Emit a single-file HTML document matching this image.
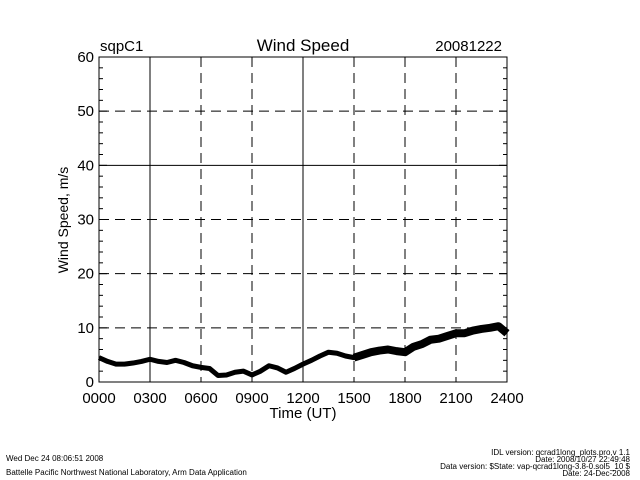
<!DOCTYPE html>
<html><head><meta charset="utf-8"><style>
html,body{margin:0;padding:0;background:#fff;}
svg{display:block;font-family:"Liberation Sans",sans-serif;}
</style></head><body>
<svg id="chart" width="640" height="480" viewBox="0 0 640 480">
<g id="grid"></g>
<g id="series"></g>
<rect x="99" y="57" width="408" height="325" fill="none" stroke="#000" stroke-width="1"/>
<g id="axes"></g>
<text x="100" y="51" font-size="15">sqpC1</text>
<text x="303" y="51" font-size="17" text-anchor="middle">Wind Speed</text>
<text x="502" y="51" font-size="15" text-anchor="end">20081222</text>
<text x="303" y="418" font-size="15" text-anchor="middle">Time (UT)</text>
<text transform="translate(68,220) rotate(-90)" font-size="14" text-anchor="middle">Wind Speed, m/s</text>
<g font-size="8">
<text x="6" y="461">Wed Dec 24 08:06:51 2008</text>
<text x="6" y="475">Battelle Pacific Northwest National Laboratory, Arm Data Application</text>
<text x="630" y="455" text-anchor="end">IDL version: qcrad1long_plots.pro,v 1.1</text>
<text x="630" y="462" text-anchor="end">Date: 2008/10/27 22:49:48</text>
<text x="630" y="469" text-anchor="end">Data version: $State: vap-qcrad1long-3.8-0.sol5_10 $</text>
<text x="630" y="476" text-anchor="end">Date: 24-Dec-2008</text>
</g>
</svg>
<script>
const xTickLabels=["0000","0300","0600","0900","1200","1500","1800","2100","2400"];
const xTickHours=[0,3,6,9,12,15,18,21,24];
const yTicks=[0,10,20,30,40,50,60];
const hours=[0,0.5,1,1.5,2,2.5,3,3.5,4,4.5,5,5.5,6,6.5,7,7.5,8,8.5,9,9.5,10,10.5,11,11.5,12,12.5,13,13.5,14,14.5,15,15.5,16,16.5,17,17.5,18,18.5,19,19.5,20,20.5,21,21.5,22,22.5,23,23.5,24];
const speeds=[4.5,3.8,3.3,3.3,3.5,3.8,4.2,3.8,3.6,4.0,3.6,3.0,2.7,2.5,1.2,1.3,1.8,2.0,1.3,2.0,3.0,2.6,1.8,2.5,3.3,4.0,4.8,5.5,5.3,4.8,4.5,5.0,5.5,5.8,6.0,5.7,5.5,6.5,7.0,7.8,8.0,8.5,9.0,9.0,9.5,9.8,10.0,10.3,9.0];
const NS="http://www.w3.org/2000/svg";
const X0=99,X1=507,Y0=382,Y1=57;
const xs=h=>X0+(X1-X0)*h/24;
const ys=v=>Y0-(Y0-Y1)*v/60;
function mk(tag,attrs,parent){const e=document.createElementNS(NS,tag);for(const k in attrs)e.setAttribute(k,attrs[k]);parent.appendChild(e);return e;}
const grid=document.getElementById('grid'),axes=document.getElementById('axes'),series=document.getElementById('series');
xTickHours.forEach((h,i)=>{
  if(i>0&&i<xTickHours.length-1){
    const l=mk('line',{x1:xs(h),x2:xs(h),y1:Y1,y2:Y0,stroke:'#000','stroke-width':1,'stroke-dasharray':(h===3||h===12)?'none':'10,6'},grid);
    
    
  }
  const t=mk('text',{x:xs(h),y:403,'font-size':15,'text-anchor':'middle'},axes);
  t.textContent=xTickLabels[i];
  
  
});
yTicks.forEach(v=>{
  if(v>0&&v<60){
    const l=mk('line',{x1:X0,x2:X1,y1:ys(v),y2:ys(v),stroke:'#000','stroke-width':1,'stroke-dasharray':v===40?'none':'10,6'},grid);
    
    
  }
  const t=mk('text',{x:94,y:ys(v)+5,'font-size':15,'text-anchor':'end'},axes);
  t.textContent=v;
  
  
});
for(let v=0;v<=60;v+=2){
  const len=(v%10===0)?8:4;
  const a=mk('line',{x1:X0,x2:X0+len,y1:ys(v),y2:ys(v),stroke:'#000'},axes);
  
  
  const b=mk('line',{x1:X1-len,x2:X1,y1:ys(v),y2:ys(v),stroke:'#000'},axes);
  
  
}
const pts=hours.map((h,i)=>xs(h)+','+ys(speeds[i])).join(' ');
const pl=mk('polyline',{points:pts,fill:'none',stroke:'#000','stroke-width':5,'stroke-linejoin':'round'},series);


const late=hours.map((h,i)=>[h,speeds[i]]).filter(p=>p[0]>=15).map(p=>xs(p[0])+','+ys(p[1])).join(' ');
const pl2=mk('polyline',{points:late,fill:'none',stroke:'#000','stroke-width':8,'stroke-linejoin':'round'},series);


</script>
</body></html>
